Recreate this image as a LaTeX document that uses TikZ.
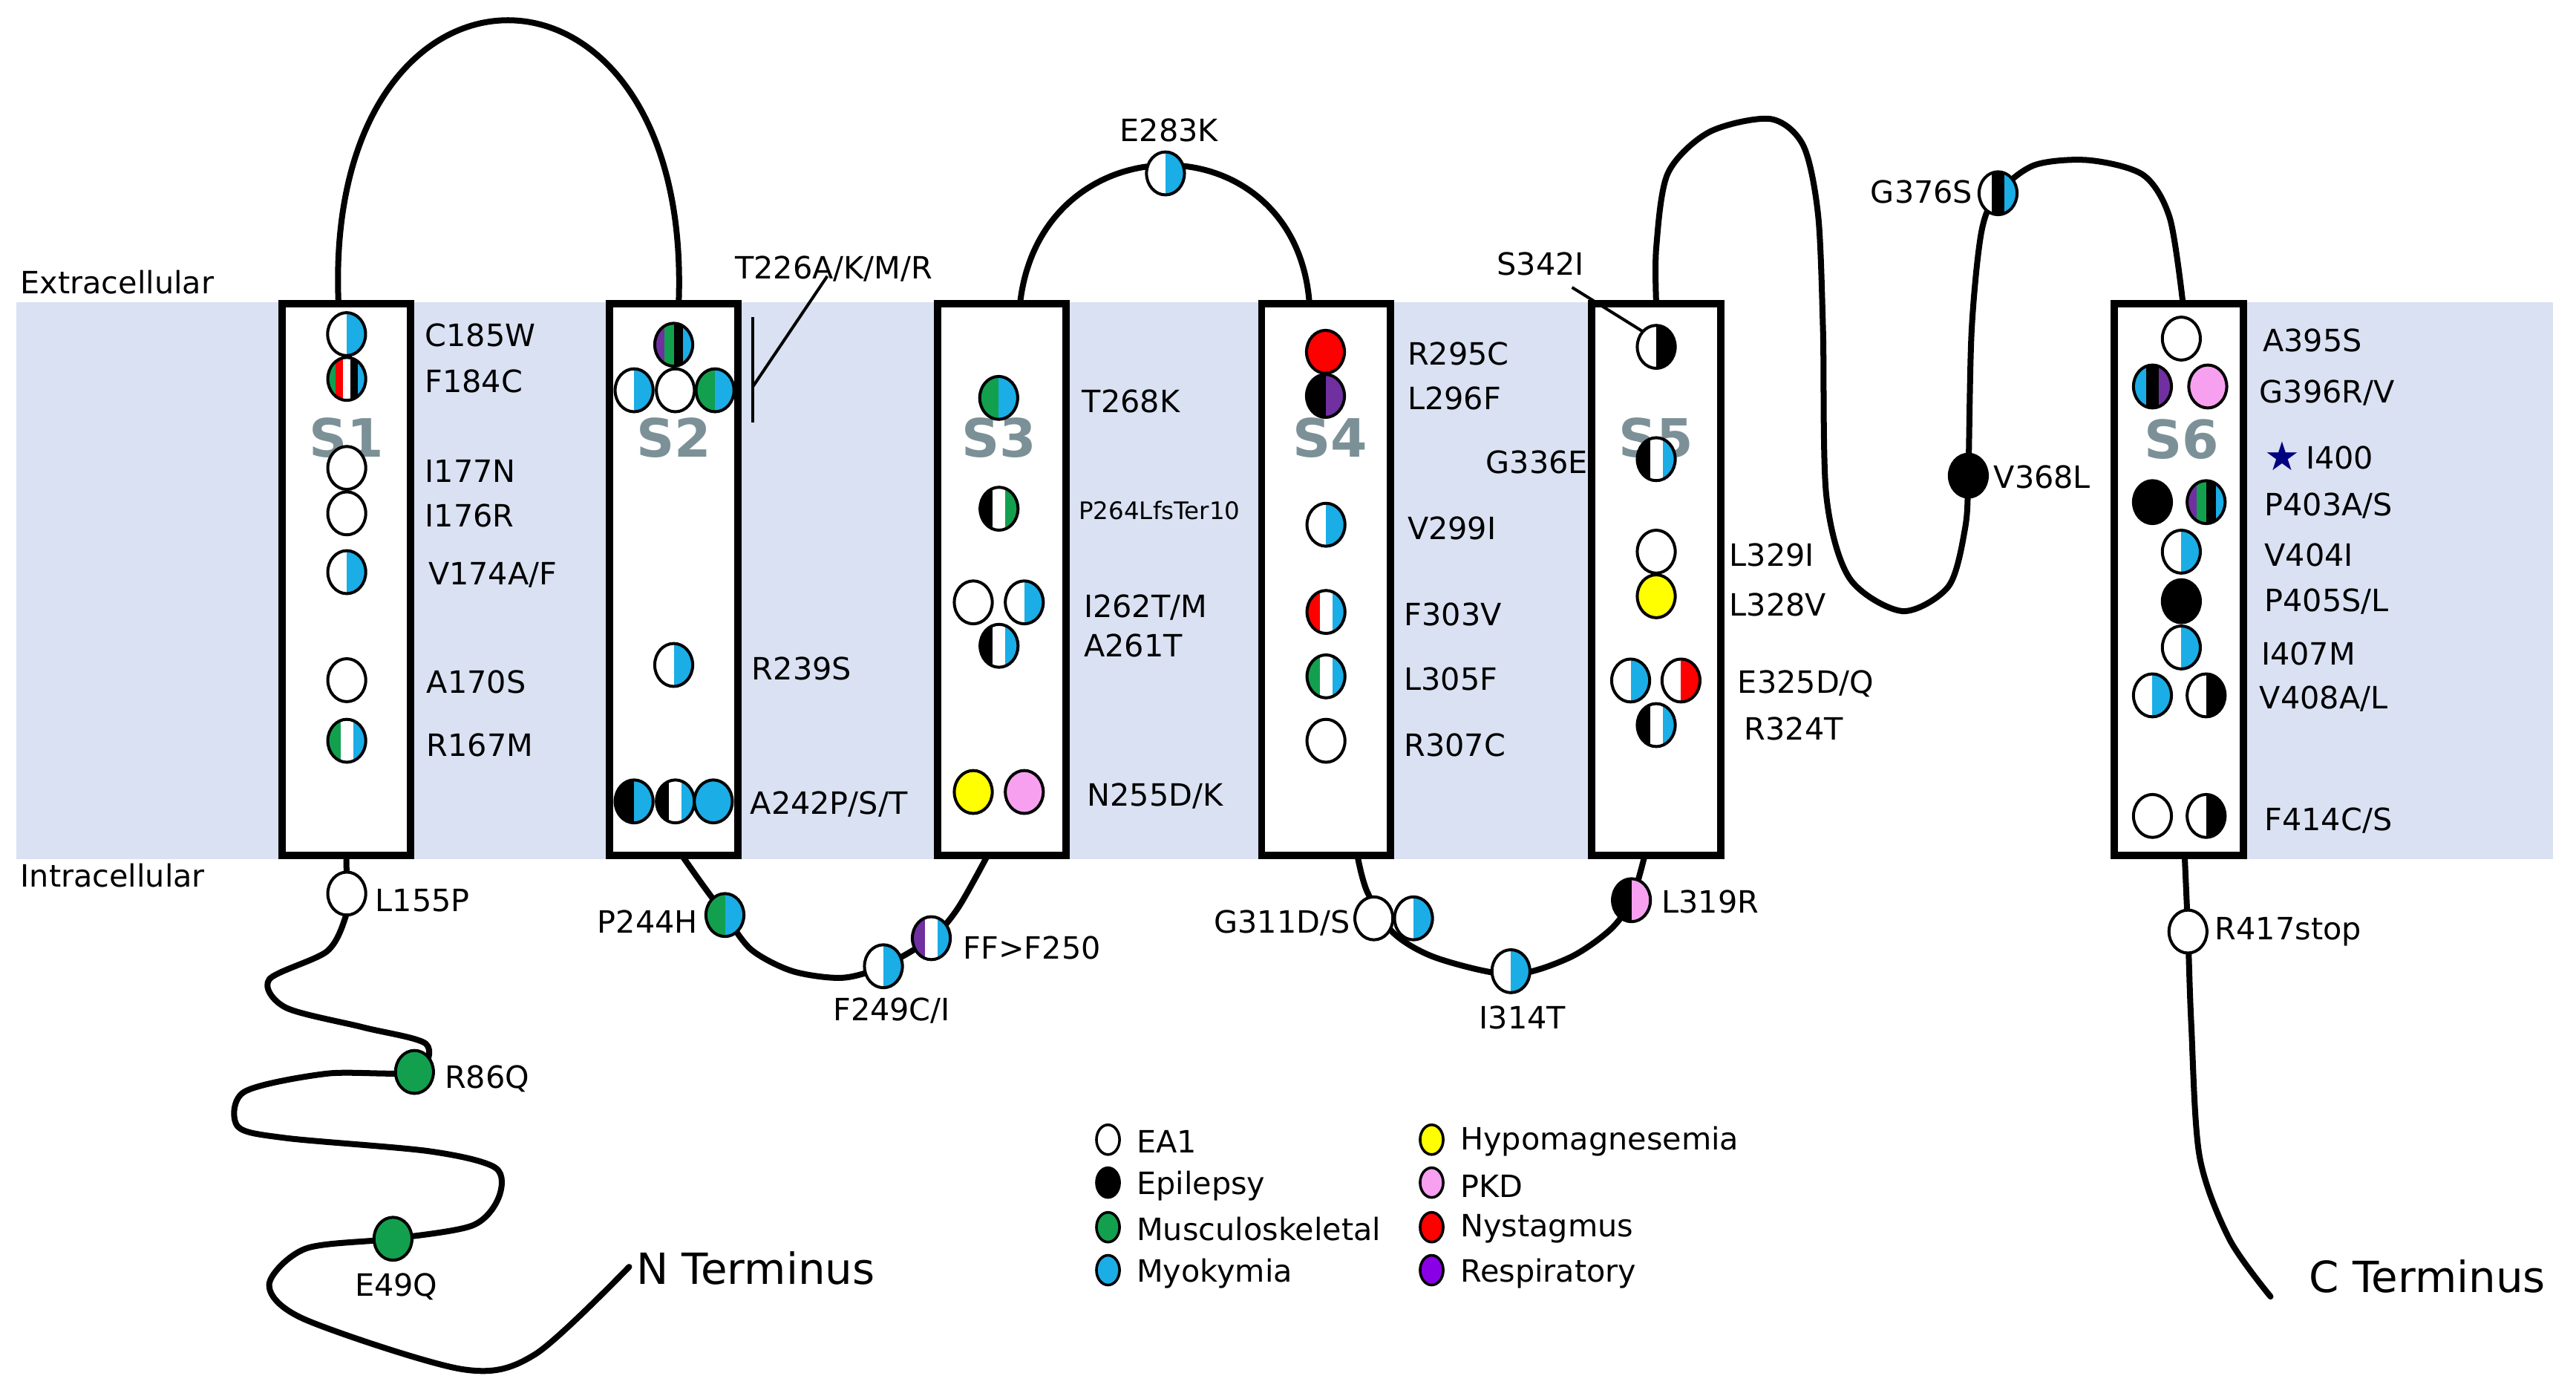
\documentclass[tikz,border=0pt]{standalone}
\usepackage{fontspec}
\setmainfont{DejaVu Sans}
\usetikzlibrary{shapes.geometric,calc}
\definecolor{cB}{HTML}{1AADE6}
\definecolor{cG}{HTML}{12A04F}
\definecolor{cR}{HTML}{FF0000}
\definecolor{cP}{HTML}{7030A0}
\definecolor{cLP}{HTML}{8A00E6}
\definecolor{cPk}{HTML}{F7A0F0}
\definecolor{cY}{HTML}{FFFF00}
\definecolor{cK}{HTML}{000000}
\definecolor{cW}{HTML}{FFFFFF}
\definecolor{band}{HTML}{D9E1F2}
\definecolor{slabc}{HTML}{7C9197}
\newcommand\mut[3]{%
  \node[mut] (#1) at (#2) {};
  \begin{scope}
    \clip (#1.center) ellipse [x radius=11.5, y radius=13];
    \foreach \cc [count=\i] in {#3} {\xdef\ncol{\i}}
    \foreach \cc [count=\i] in {#3} {\fill[\cc] ($(#1.center)+({-11.5+(\i-1)*23/\ncol},-13)$) rectangle ++({23/\ncol},26);}
  \end{scope}
  \draw[line width=0.9pt] (#1.center) ellipse [x radius=11.5, y radius=13];
}
\begin{document}
\begin{tikzpicture}[x=0.5pt,y=-0.5pt,
  mut/.style={ellipse,minimum width=11.5pt,minimum height=13pt,inner sep=0},
  tm/.style={draw,line width=2.2pt,fill=white,minimum width=39pt,minimum height=167pt,inner sep=0},
  slab/.style={font=\fontsize{16}{16}\selectfont\bfseries,text=slabc},
  lab/.style={font=\fontsize{9.3}{10}\selectfont,inner sep=0},
  big/.style={font=\fontsize{13}{14}\selectfont,inner sep=0},
  chain/.style={line width=1.8pt,line join=round,line cap=round},
  leg/.style={draw,line width=0.8pt,ellipse,minimum width=7pt,minimum height=9pt,inner sep=0}]
\useasboundingbox (0,0) rectangle (1560,845);
% membrane band
\fill[band] (10,183) rectangle (1041,520);
\fill[band] (1281,183) rectangle (1546,520);
\node[lab,anchor=west] (ext) at (12,171) {Extracellular};
\node[lab,anchor=west] (int) at (12,530) {Intracellular};
% coordinates of loops
\coordinate (a1) at (205,184); \coordinate (a2) at (411,184);
\coordinate (b1) at (413,518); \coordinate (b2) at (598,518);
\coordinate (c1) at (617.7,184); \coordinate (c2) at (793,184);
\coordinate (d1) at (822,518); \coordinate (d2) at (996,518);
\coordinate (e1) at (1003,184); \coordinate (e2) at (1322,184);
\coordinate (n1) at (209.7,518); \coordinate (nend) at (381,767);
\coordinate (c6) at (1323,518); \coordinate (cend) at (1375,785);
\draw[chain] (a1) .. controls (195,-45) and (420,-45) .. (a2);
\draw[chain] plot[smooth] coordinates {(b1)(425,535)(439,554)(455,575)(480,588)(510,592)(535,585)(564,568)(580,550)(b2)};
\draw[chain] (c1) .. controls (630,72) and (785,72) .. (c2);
\draw[chain] plot[smooth] coordinates {(d1)(828,540)(844,565)(870,580)(915,590)(950,580)(975,563)(988,545)(d2)};
\draw[chain] plot[smooth] coordinates {(e1)(1003,150)(1010,105)(1035,80)(1072,72)(1092,88)(1101,130)(1104,200)(1106,300)(1120,350)(1152,370)(1180,355)(1190,320)(1192,288)(1194,200)(1200,140)(1210,117)(1232,100)(1265,97)(1298,106)(1314,132)(e2)};
\draw[chain] plot[smooth] coordinates {(n1)(210,541)(209.3,555)(198,576)(163,593)(173,610)(220,622)(258,632)(251,649)(198,650)(148,661)(144,682)(173,689)(260,697)(300,707)(302,725)(286,742)(238,750)(185,756)(163,778)(185,799)(280,829)(324,820)(nend)};
\draw[chain] plot[smooth] coordinates {(c6)(1325,564)(1327,620)(1332,700)(1350,750)(cend)};
% boxes
\node[tm] (S1) at (209.7,351) {};
\node[tm] (S2) at (408,351) {};
\node[tm] (S3) at (606.7,351) {};
\node[tm] (S4) at (803,351) {};
\node[tm] (S5) at (1003,351) {};
\node[tm] (S6) at (1319.5,351) {};
\node[slab] at (209.7,265) {S1};
\node[slab] at (408,265) {S2};
\node[slab] at (605,265) {S3};
\node[slab] at (805.5,265) {S4};
\node[slab] at (1003,265) {S5};
\node[slab] at (1321,266) {S6};
% S1
\mut{m1}{209.9,202.3}{cW,cB}
\mut{m2}{210,229.4}{cG,cR,cW,cK,cB}
\mut{m3}{210,283.3}{cW}
\mut{m4}{210,310.8}{cW}
\mut{m5}{210,346.4}{cW,cB}
\mut{m6}{210,411.8}{cW}
\mut{m7}{210,448.5}{cG,cW,cB}
\node[lab,anchor=west] at (257,203) {C185W};
\node[lab,anchor=west] at (257,231) {F184C};
\node[lab,anchor=west] at (257,285) {I177N};
\node[lab,anchor=west] at (257,312) {I176R};
\node[lab,anchor=west] at (259,348) {V174A/F};
\node[lab,anchor=west] at (258,413) {A170S};
\node[lab,anchor=west] at (258,451) {R167M};
% S2
\mut{t1}{408,208.7}{cP,cG,cK,cB}
\mut{t2}{384,236.3}{cW,cB}
\mut{t3}{409,236.3}{cW}
\mut{t4}{433,236.3}{cG,cB}
\mut{r239}{408,402.6}{cW,cB}
\mut{a1m}{384,485.2}{cK,cB}
\mut{a2m}{409,485.2}{cK,cW,cB}
\mut{a3m}{432,485.2}{cB}
\coordinate (bar1) at (456,192); \coordinate (bar2) at (456,256);
\draw[line width=0.9pt] (bar1) -- (bar2);
\node[lab] (T226) at (505,163) {T226A/K/M/R};
\coordinate (tl) at (456,234);
\draw[line width=0.9pt] (T226.south) ++(-4,-4) -- (tl);
\node[lab,anchor=west] at (455,405) {R239S};
\node[lab,anchor=west] at (454,487) {A242P/S/T};
% S3
\mut{s31}{604.8,240.9}{cG,cB}
\mut{s32}{605,308}{cK,cW,cG}
\mut{s33}{589.4,364.7}{cW}
\mut{s34}{620.3,364.7}{cW,cB}
\mut{s35}{605,391}{cK,cW,cB}
\mut{s36}{589.4,479.5}{cY}
\mut{s37}{620.3,479.5}{cPk}
\node[lab,anchor=west] at (655,243) {T268K};
\node[lab,anchor=west,font=\fontsize{7.3}{8}\selectfont] at (653,309) {P264LfsTer10};
\node[lab,anchor=west] at (656,368) {I262T/M};
\node[lab,anchor=west] at (656,391) {A261T};
\node[lab,anchor=west] at (658,482) {N255D/K};
% S4
\mut{s41}{802.7,213}{cR}
\mut{s42}{802.7,239.7}{cK,cP}
\mut{s43}{803,317.7}{cW,cB}
\mut{s44}{803,370.5}{cR,cW,cB}
\mut{s45}{803,409.5}{cG,cW,cB}
\mut{s46}{803,448.5}{cW}
\node[lab,anchor=west] at (852,214) {R295C};
\node[lab,anchor=west] at (852,241) {L296F};
\node[lab,anchor=west] at (852,320) {V299I};
\node[lab,anchor=west] at (850,372) {F303V};
\node[lab,anchor=west] at (850,411) {L305F};
\node[lab,anchor=west] at (850,451) {R307C};
% S5
\mut{s51}{1003,210}{cW,cK}
\mut{s52}{1003,278}{cK,cW,cB}
\mut{s53}{1003,334}{cW}
\mut{s54}{1003,361}{cY}
\mut{s55}{987.5,412}{cW,cB}
\mut{s56}{1018,412}{cW,cR}
\mut{s57}{1003,439}{cK,cW,cB}
\node[lab] (S342) at (933,160) {S342I};
\draw[line width=0.9pt] (952,174) -- (s51.north west);
\node[lab,anchor=east] at (962,280) {G336E};
\node[lab,anchor=west] at (1047,336) {L329I};
\node[lab,anchor=west] at (1047,366) {L328V};
\node[lab,anchor=west] at (1052,414) {E325D/Q};
\node[lab,anchor=west] at (1056,441) {R324T};
% loop S5-S6
\mut{v368}{1192,288}{cK}
\node[lab,anchor=west] at (1207,289) {V368L};
\mut{g376}{1210,117}{cW,cK,cB}
\node[lab,anchor=east] at (1195,116) {G376S};
\mut{e283}{705.8,105}{cW,cB}
\node[lab] at (708,79) {E283K};
% S6
\mut{s61}{1321,205}{cW}
\mut{s62}{1303.5,234}{cB,cK,cP}
\mut{s63}{1337,234}{cPk}
\mut{s64}{1303.5,304}{cK}
\mut{s65}{1336,304}{cP,cG,cK,cB}
\mut{s66}{1321,334}{cW,cB}
\mut{s67}{1321,364}{cK}
\mut{s68}{1321,392}{cW,cB}
\mut{s69}{1303.5,421}{cW,cB}
\mut{s6a}{1336,421}{cW,cK}
\mut{s6b}{1303.5,494}{cW}
\mut{s6c}{1336,494}{cW,cK}
\node[lab,anchor=west] at (1370,206) {A395S};
\node[lab,anchor=west] at (1368,238) {G396R/V};
\node[text=blue!50!black,font=\fontsize{12}{12}\selectfont,inner sep=0] (star) at (1382,276) {★};
\node[lab,anchor=west] at (1396,277) {I400};
\node[lab,anchor=west] at (1371,306) {P403A/S};
\node[lab,anchor=west] at (1371,336) {V404I};
\node[lab,anchor=west] at (1371,364) {P405S/L};
\node[lab,anchor=west] at (1369,396) {I407M};
\node[lab,anchor=west] at (1368,423) {V408A/L};
\node[lab,anchor=west] at (1371,497) {F414C/S};
% intracellular loops
\mut{l155}{210,541}{cW}
\node[lab,anchor=west] at (227,545) {L155P};
\mut{p244}{439,554}{cG,cB}
\node[lab,anchor=east] at (423,558) {P244H};
\mut{f249}{535,585}{cW,cB}
\node[lab] at (540,612) {F249C/I};
\mut{ff}{564,568}{cP,cW,cB}
\node[lab,anchor=west] at (583,574) {FF>F250};
\mut{g311a}{832,556}{cW}
\mut{g311b}{856,556}{cW,cB}
\node[lab,anchor=east] at (818,559) {G311D/S};
\mut{i314}{915,588}{cW,cB}
\node[lab] at (922,616) {I314T};
\mut{l319}{988,545}{cK,cPk}
\node[lab,anchor=west] at (1006,546) {L319R};
\mut{r86}{251,649}{cG}
\node[lab,anchor=west] at (269,653) {R86Q};
\mut{e49}{238,750}{cG}
\node[lab] at (240,779) {E49Q};
\mut{r417}{1325,564}{cW}
\node[lab,anchor=west] at (1341,564) {R417stop};
\node[big,anchor=west] at (385,768) {N Terminus};
\node[big,anchor=west] at (1398,773) {C Terminus};
% legend
\node[leg,fill=white] (g1) at (671,690) {};
\node[leg,fill=black] (g2) at (671,716) {};
\node[leg,fill=cG] (g3) at (671,743) {};
\node[leg,fill=cB] (g4) at (671,769) {};
\node[leg,fill=cY] (g5) at (867,690) {};
\node[leg,fill=cPk] (g6) at (867,716) {};
\node[leg,fill=cR] (g7) at (867,743) {};
\node[leg,fill=cLP] (g8) at (867,769) {};
\node[lab,anchor=west] at (688,691) {EA1};
\node[lab,anchor=west] at (688,718) {Epilepsy};
\node[lab,anchor=west] at (688,744) {Musculoskeletal};
\node[lab,anchor=west] at (688,771) {Myokymia};
\node[lab,anchor=west] at (884,691) {Hypomagnesemia};
\node[lab,anchor=west] at (884,718) {PKD};
\node[lab,anchor=west] at (884,744) {Nystagmus};
\node[lab,anchor=west] at (884,771) {Respiratory};
\end{tikzpicture}
\end{document}
